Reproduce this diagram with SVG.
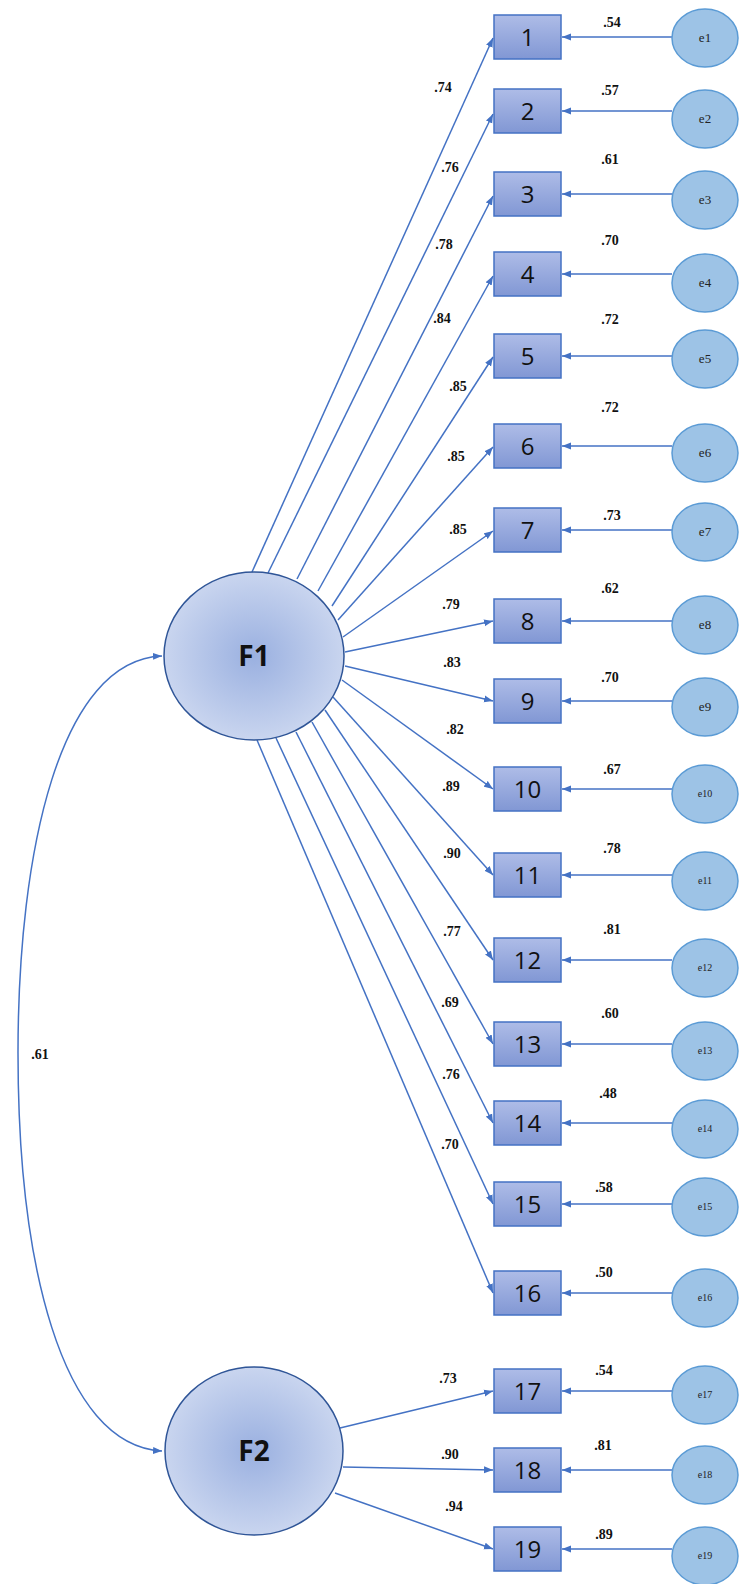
<svg xmlns="http://www.w3.org/2000/svg" width="739" height="1584" viewBox="0 0 739 1584">
<defs>
<linearGradient id="boxg" x1="0" y1="0" x2="0" y2="1"><stop offset="0" stop-color="#aebce7"/><stop offset="1" stop-color="#8197d4"/></linearGradient>
<radialGradient id="fg" cx="0.5" cy="0.5" r="0.5"><stop offset="0" stop-color="#9ab0e0"/><stop offset="1" stop-color="#c9d5ef"/></radialGradient>
<marker id="ah" markerUnits="userSpaceOnUse" markerWidth="10" markerHeight="8" refX="9" refY="4" orient="auto-start-reverse"><path d="M0,0.5 L9,4 L0,7.5 Z" fill="#4472c4"/></marker>
</defs>
<style>
.c{stroke:#4472c4;stroke-width:1.5;fill:none;marker-end:url(#ah)}
.cov{marker-start:url(#ah)}
.box{fill:url(#boxg);stroke:#4472c4;stroke-width:1.5}
.bt{font-family:"Open Sans","Liberation Sans",sans-serif;font-size:24px;fill:#111;text-anchor:middle}
.err{fill:#9dc3e6;stroke:#5b9bd5;stroke-width:1.5}
.et{font-family:"Liberation Serif",serif;font-size:13px;fill:#222;text-anchor:middle}
.es{font-family:"Liberation Serif",serif;font-size:10px;fill:#222;text-anchor:middle}
.lat{fill:url(#fg);stroke:#2f5597;stroke-width:1.5}
.lt{font-family:"Open Sans","Liberation Sans",sans-serif;font-size:28px;font-weight:bold;fill:#111;text-anchor:middle}
.v{font-family:"Liberation Serif",serif;font-size:14px;font-weight:bold;fill:#111;text-anchor:middle}
</style>
<g id="connectors">
<path class="c cov" d="M162,656 C60,660 18,850 18,1053 C18,1260 60,1445 162,1451"/>
<line class="c" x1="252" y1="572" x2="493" y2="38"/>
<line class="c" x1="268" y1="573" x2="493" y2="114"/>
<line class="c" x1="297" y1="579" x2="493" y2="196"/>
<line class="c" x1="318" y1="591" x2="493" y2="276"/>
<line class="c" x1="332" y1="606" x2="493" y2="357"/>
<line class="c" x1="338" y1="620" x2="493" y2="447"/>
<line class="c" x1="343" y1="637" x2="493" y2="531"/>
<line class="c" x1="345" y1="652" x2="493" y2="621"/>
<line class="c" x1="345" y1="666" x2="493" y2="701"/>
<line class="c" x1="342" y1="680" x2="493" y2="789"/>
<line class="c" x1="333" y1="697" x2="493" y2="875"/>
<line class="c" x1="325" y1="710" x2="493" y2="960"/>
<line class="c" x1="312" y1="722" x2="493" y2="1044"/>
<line class="c" x1="296" y1="732" x2="493" y2="1123"/>
<line class="c" x1="276" y1="738" x2="493" y2="1204"/>
<line class="c" x1="257" y1="740" x2="493" y2="1293"/>
<line class="c" x1="340" y1="1428" x2="493" y2="1391"/>
<line class="c" x1="343" y1="1467" x2="493" y2="1470"/>
<line class="c" x1="335" y1="1493" x2="493" y2="1549"/>
<line class="c" x1="672" y1="37" x2="562" y2="37"/>
<line class="c" x1="672" y1="111" x2="562" y2="111"/>
<line class="c" x1="672" y1="194" x2="562" y2="194"/>
<line class="c" x1="672" y1="274" x2="562" y2="274"/>
<line class="c" x1="672" y1="356" x2="562" y2="356"/>
<line class="c" x1="672" y1="446" x2="562" y2="446"/>
<line class="c" x1="672" y1="530" x2="562" y2="530"/>
<line class="c" x1="672" y1="621" x2="562" y2="621"/>
<line class="c" x1="672" y1="701" x2="562" y2="701"/>
<line class="c" x1="672" y1="789" x2="562" y2="789"/>
<line class="c" x1="672" y1="875" x2="562" y2="875"/>
<line class="c" x1="672" y1="960" x2="562" y2="960"/>
<line class="c" x1="672" y1="1044" x2="562" y2="1044"/>
<line class="c" x1="672" y1="1123" x2="562" y2="1123"/>
<line class="c" x1="672" y1="1204" x2="562" y2="1204"/>
<line class="c" x1="672" y1="1293" x2="562" y2="1293"/>
<line class="c" x1="672" y1="1391" x2="562" y2="1391"/>
<line class="c" x1="672" y1="1470" x2="562" y2="1470"/>
<line class="c" x1="672" y1="1549" x2="562" y2="1549"/>
</g>
<g id="labels">
<text class="v" x="40" y="1059">.61</text>
<text class="v" x="443" y="92">.74</text>
<text class="v" x="450" y="172">.76</text>
<text class="v" x="444" y="249">.78</text>
<text class="v" x="442" y="323">.84</text>
<text class="v" x="458" y="391">.85</text>
<text class="v" x="456" y="461">.85</text>
<text class="v" x="458" y="534">.85</text>
<text class="v" x="451" y="609">.79</text>
<text class="v" x="452" y="667">.83</text>
<text class="v" x="455" y="734">.82</text>
<text class="v" x="451" y="791">.89</text>
<text class="v" x="452" y="858">.90</text>
<text class="v" x="452" y="936">.77</text>
<text class="v" x="450" y="1007">.69</text>
<text class="v" x="451" y="1079">.76</text>
<text class="v" x="450" y="1149">.70</text>
<text class="v" x="448" y="1383">.73</text>
<text class="v" x="450" y="1459">.90</text>
<text class="v" x="454" y="1511">.94</text>
<text class="v" x="612" y="27">.54</text>
<text class="v" x="610" y="95">.57</text>
<text class="v" x="610" y="164">.61</text>
<text class="v" x="610" y="245">.70</text>
<text class="v" x="610" y="324">.72</text>
<text class="v" x="610" y="412">.72</text>
<text class="v" x="612" y="520">.73</text>
<text class="v" x="610" y="593">.62</text>
<text class="v" x="610" y="682">.70</text>
<text class="v" x="612" y="774">.67</text>
<text class="v" x="612" y="853">.78</text>
<text class="v" x="612" y="934">.81</text>
<text class="v" x="610" y="1018">.60</text>
<text class="v" x="608" y="1098">.48</text>
<text class="v" x="604" y="1192">.58</text>
<text class="v" x="604" y="1277">.50</text>
<text class="v" x="604" y="1375">.54</text>
<text class="v" x="603" y="1450">.81</text>
<text class="v" x="604" y="1539">.89</text>
</g>
<g id="F1"><ellipse class="lat" cx="254" cy="656" rx="90" ry="84"/><text class="lt" x="254" y="666">F1</text></g>
<g id="F2"><ellipse class="lat" cx="254" cy="1451" rx="89" ry="84"/><text class="lt" x="254" y="1461">F2</text></g>
<g id="n1"><rect class="box" x="494" y="15" width="67" height="44"/><text class="bt" x="527.5" y="46">1</text></g>
<g id="n2"><rect class="box" x="494" y="89" width="67" height="44"/><text class="bt" x="527.5" y="120">2</text></g>
<g id="n3"><rect class="box" x="494" y="172" width="67" height="44"/><text class="bt" x="527.5" y="203">3</text></g>
<g id="n4"><rect class="box" x="494" y="252" width="67" height="44"/><text class="bt" x="527.5" y="283">4</text></g>
<g id="n5"><rect class="box" x="494" y="334" width="67" height="44"/><text class="bt" x="527.5" y="365">5</text></g>
<g id="n6"><rect class="box" x="494" y="424" width="67" height="44"/><text class="bt" x="527.5" y="455">6</text></g>
<g id="n7"><rect class="box" x="494" y="508" width="67" height="44"/><text class="bt" x="527.5" y="539">7</text></g>
<g id="n8"><rect class="box" x="494" y="599" width="67" height="44"/><text class="bt" x="527.5" y="630">8</text></g>
<g id="n9"><rect class="box" x="494" y="679" width="67" height="44"/><text class="bt" x="527.5" y="710">9</text></g>
<g id="n10"><rect class="box" x="494" y="767" width="67" height="44"/><text class="bt" x="527.5" y="798">10</text></g>
<g id="n11"><rect class="box" x="494" y="853" width="67" height="44"/><text class="bt" x="527.5" y="884">11</text></g>
<g id="n12"><rect class="box" x="494" y="938" width="67" height="44"/><text class="bt" x="527.5" y="969">12</text></g>
<g id="n13"><rect class="box" x="494" y="1022" width="67" height="44"/><text class="bt" x="527.5" y="1053">13</text></g>
<g id="n14"><rect class="box" x="494" y="1101" width="67" height="44"/><text class="bt" x="527.5" y="1132">14</text></g>
<g id="n15"><rect class="box" x="494" y="1182" width="67" height="44"/><text class="bt" x="527.5" y="1213">15</text></g>
<g id="n16"><rect class="box" x="494" y="1271" width="67" height="44"/><text class="bt" x="527.5" y="1302">16</text></g>
<g id="n17"><rect class="box" x="494" y="1369" width="67" height="44"/><text class="bt" x="527.5" y="1400">17</text></g>
<g id="n18"><rect class="box" x="494" y="1448" width="67" height="44"/><text class="bt" x="527.5" y="1479">18</text></g>
<g id="n19"><rect class="box" x="494" y="1527" width="67" height="44"/><text class="bt" x="527.5" y="1558">19</text></g>
<g id="e1"><ellipse class="err" cx="705" cy="38" rx="33" ry="29"/><text class="et" x="705" y="42">e1</text></g>
<g id="e2"><ellipse class="err" cx="705" cy="119" rx="33" ry="29"/><text class="et" x="705" y="123">e2</text></g>
<g id="e3"><ellipse class="err" cx="705" cy="200" rx="33" ry="29"/><text class="et" x="705" y="204">e3</text></g>
<g id="e4"><ellipse class="err" cx="705" cy="283" rx="33" ry="29"/><text class="et" x="705" y="287">e4</text></g>
<g id="e5"><ellipse class="err" cx="705" cy="359" rx="33" ry="29"/><text class="et" x="705" y="363">e5</text></g>
<g id="e6"><ellipse class="err" cx="705" cy="453" rx="33" ry="29"/><text class="et" x="705" y="457">e6</text></g>
<g id="e7"><ellipse class="err" cx="705" cy="532" rx="33" ry="29"/><text class="et" x="705" y="536">e7</text></g>
<g id="e8"><ellipse class="err" cx="705" cy="625" rx="33" ry="29"/><text class="et" x="705" y="629">e8</text></g>
<g id="e9"><ellipse class="err" cx="705" cy="707" rx="33" ry="29"/><text class="et" x="705" y="711">e9</text></g>
<g id="e10"><ellipse class="err" cx="705" cy="794" rx="33" ry="29"/><text class="es" x="705" y="797">e10</text></g>
<g id="e11"><ellipse class="err" cx="705" cy="881" rx="33" ry="29"/><text class="es" x="705" y="884">e11</text></g>
<g id="e12"><ellipse class="err" cx="705" cy="968" rx="33" ry="29"/><text class="es" x="705" y="971">e12</text></g>
<g id="e13"><ellipse class="err" cx="705" cy="1051" rx="33" ry="29"/><text class="es" x="705" y="1054">e13</text></g>
<g id="e14"><ellipse class="err" cx="705" cy="1129" rx="33" ry="29"/><text class="es" x="705" y="1132">e14</text></g>
<g id="e15"><ellipse class="err" cx="705" cy="1207" rx="33" ry="29"/><text class="es" x="705" y="1210">e15</text></g>
<g id="e16"><ellipse class="err" cx="705" cy="1298" rx="33" ry="29"/><text class="es" x="705" y="1301">e16</text></g>
<g id="e17"><ellipse class="err" cx="705" cy="1395" rx="33" ry="29"/><text class="es" x="705" y="1398">e17</text></g>
<g id="e18"><ellipse class="err" cx="705" cy="1475" rx="33" ry="29"/><text class="es" x="705" y="1478">e18</text></g>
<g id="e19"><ellipse class="err" cx="705" cy="1556" rx="33" ry="29"/><text class="es" x="705" y="1559">e19</text></g>
</svg>
